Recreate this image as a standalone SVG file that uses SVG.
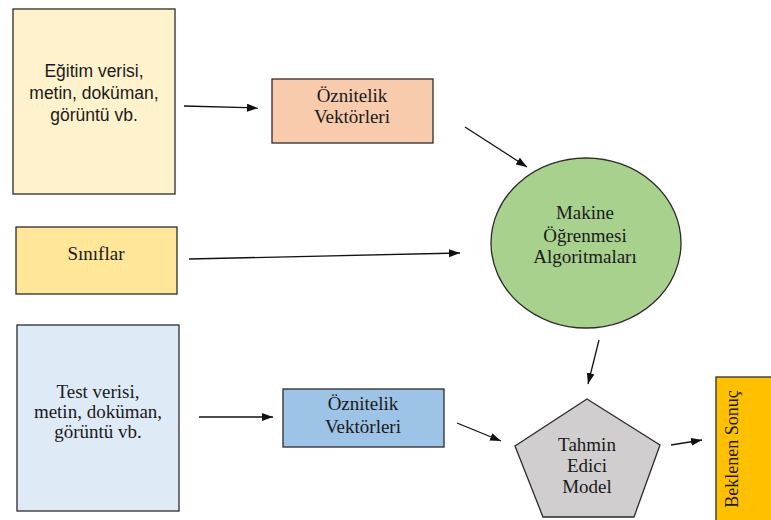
<svg xmlns="http://www.w3.org/2000/svg" width="771" height="520" viewBox="0 0 771 520">
  <style>
    .box { stroke: #2b2b2b; stroke-width: 1.3; }
    .serif { font-family: "Liberation Serif", "DejaVu Serif", serif; font-size: 19px; fill: #1a1a1a; text-anchor: middle; }
    .sans { font-family: "Liberation Sans", "DejaVu Sans", sans-serif; font-size: 17.5px; fill: #1a1a1a; text-anchor: middle; }
    .edge { stroke: #111; stroke-width: 1.3; fill: none; marker-end: url(#arrow); }
  </style>
  <defs>
    <marker id="arrow" markerUnits="userSpaceOnUse" markerWidth="12" markerHeight="10" refX="11" refY="4" orient="auto">
      <path d="M0,0 L11,4 L0,8 Z" fill="#111"/>
    </marker>
  </defs>

  <rect width="771" height="520" fill="#ffffff"/>

  <!-- training data -->
  <g id="egitim-verisi">
    <rect class="box" x="13" y="9" width="162" height="185" fill="#FFF2CC"/>
    <text class="sans" x="94" y="77">Eğitim verisi,</text>
    <text class="sans" x="94" y="99">metin, doküman,</text>
    <text class="sans" x="94" y="121">görüntü vb.</text>
  </g>

  <!-- feature vectors (training) -->
  <g id="oznitelik-egitim">
    <rect class="box" x="272" y="79" width="161" height="64" fill="#F8CBAD"/>
    <text class="serif" x="352" y="102">Öznitelik</text>
    <text class="serif" x="352" y="123">Vektörleri</text>
  </g>

  <!-- class labels -->
  <g id="siniflar">
    <rect class="box" x="16" y="227" width="161" height="67" fill="#FFE699"/>
    <text class="serif" x="96" y="260">Sınıflar</text>
  </g>

  <!-- learning algorithms -->
  <g id="algoritmalar">
    <ellipse class="box" cx="586" cy="243" rx="95" ry="85" fill="#A9D18E"/>
    <text class="serif" x="585" y="219">Makine</text>
    <text class="serif" x="585" y="242">Öğrenmesi</text>
    <text class="serif" x="585" y="263">Algoritmaları</text>
  </g>

  <!-- test data -->
  <g id="test-verisi">
    <rect class="box" x="17" y="325" width="162" height="186" fill="#DEEBF7"/>
    <text class="serif" x="98" y="398">Test verisi,</text>
    <text class="serif" x="98" y="418">metin, doküman,</text>
    <text class="serif" x="98" y="438">görüntü vb.</text>
  </g>

  <!-- feature vectors (test) -->
  <g id="oznitelik-test">
    <rect class="box" x="283" y="389" width="161" height="58" fill="#9DC3E6"/>
    <text class="serif" x="363" y="410">Öznitelik</text>
    <text class="serif" x="363" y="433">Vektörleri</text>
  </g>

  <!-- predictive model -->
  <g id="tahmin-modeli">
    <polygon class="box" points="587,399 660,445 634,517 543,517 515,446" fill="#D0CECE"/>
    <text class="serif" x="587" y="451">Tahmin</text>
    <text class="serif" x="587" y="472">Edici</text>
    <text class="serif" x="587" y="493">Model</text>
  </g>

  <!-- expected result -->
  <g id="beklenen-sonuc">
    <rect class="box" x="716" y="377" width="61" height="150" fill="#FFC000"/>
    <text class="serif" transform="translate(738,449) rotate(-90)" x="0" y="0" style="font-size:18px">Beklenen Sonuç</text>
  </g>

  <g id="connectors">
    <line class="edge" x1="184" y1="106" x2="258" y2="108"/>
    <line class="edge" x1="465" y1="127" x2="527" y2="167"/>
    <line class="edge" x1="189" y1="259" x2="460" y2="253"/>
    <line class="edge" x1="599" y1="340" x2="588" y2="384"/>
    <line class="edge" x1="199" y1="417" x2="273" y2="417"/>
    <line class="edge" x1="457" y1="423" x2="501" y2="441"/>
    <line class="edge" x1="671" y1="445" x2="702" y2="440"/>
  </g>
</svg>
